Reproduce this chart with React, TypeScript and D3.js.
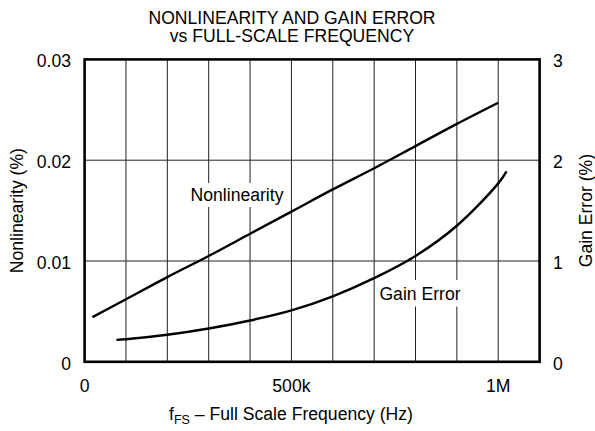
import React from "react";
import * as d3 from "d3";

const titleLines = ["NONLINEARITY AND GAIN ERROR", "vs FULL-SCALE FREQUENCY"];
const xTicks = [0, 500000, 1000000];
const xTickLabels = ["0", "500k", "1M"];
const xGrid = [100000, 200000, 300000, 400000, 500000, 600000, 700000, 800000, 900000, 1000000];
const yLeftTicks = [0, 0.01, 0.02, 0.03];
const yLeftLabels = ["0", "0.01", "0.02", "0.03"];
const yRightTicks = [0, 1, 2, 3];
const yRightLabels = ["0", "1", "2", "3"];

const nlFreq = [19000, 100000, 200000, 300000, 400000, 500000, 600000, 700000, 800000, 900000, 1000000];
const nlValues = [0.00443, 0.0062, 0.0084, 0.0105, 0.0127, 0.0149, 0.0171, 0.0192, 0.0214, 0.0236, 0.0257];

const geFreq = [77000, 100000, 200000, 300000, 400000, 500000, 600000, 700000, 800000, 900000, 1000000, 1020000];
const geValues = [0.218, 0.224, 0.268, 0.33, 0.41, 0.51, 0.65, 0.83, 1.05, 1.35, 1.77, 1.89];

const W = 595;
const H = 431;
const L = 84.6;
const R = 539.6;
const T = 59.4;
const B = 361.8;
const FONT = "'Liberation Sans', Arial, Helvetica, sans-serif";
const FS = 17.6;

export default function App() {
  const x = d3.scaleLinear().domain([0, 1100000]).range([L, R]);
  const yL = d3.scaleLinear().domain([0, 0.03]).range([B, T]);
  const yR = d3.scaleLinear().domain([0, 3]).range([B, T]);

  const nlLine = d3
    .line<number>()
    .x((_, i) => x(nlFreq[i]))
    .y((d) => yL(d))
    .curve(d3.curveCatmullRom);
  const geLine = d3
    .line<number>()
    .x((_, i) => x(geFreq[i]))
    .y((d) => yR(d))
    .curve(d3.curveCatmullRom);

  return (
    <svg
      width={W}
      height={H}
      style={{ position: "absolute", left: 0, top: 0, background: "#fff" }}
      fontFamily={FONT}
    >
      <rect x={0} y={0} width={W} height={H} fill="#fff" />
      {titleLines.map((t, i) => (
        <text key={t} x={292} y={24 + i * 18} textAnchor="middle" fontSize={FS} fill="#000">
          {t}
        </text>
      ))}
      {xGrid.map((v) => (
        <line key={"gx" + v} x1={x(v)} x2={x(v)} y1={T} y2={B} stroke="#222" strokeWidth={1} />
      ))}
      {[0.01, 0.02].map((v) => (
        <line key={"gy" + v} x1={L} x2={R} y1={yL(v)} y2={yL(v)} stroke="#222" strokeWidth={1} />
      ))}
      <rect x={189} y={183} width={96} height={24} fill="#fff" />
      <rect x={376} y={280} width={88} height={26.5} fill="#fff" />
      <path d={nlLine(nlValues) || ""} fill="none" stroke="#000" strokeWidth={2.4} />
      <path d={geLine(geValues) || ""} fill="none" stroke="#000" strokeWidth={2.4} />
      <text x={237} y={201} textAnchor="middle" fontSize={FS} fill="#000">
        Nonlinearity
      </text>
      <text x={420} y={300} textAnchor="middle" fontSize={FS} fill="#000">
        Gain Error
      </text>
      <rect x={L} y={T} width={R - L} height={B - T} fill="none" stroke="#000" strokeWidth={2.6} />
      {yLeftTicks.map((v, i) => (
        <text key={"yl" + v} x={71} y={yL(v) + 8} textAnchor="end" fontSize={FS} fill="#000">
          {yLeftLabels[i]}
        </text>
      ))}
      {yRightTicks.map((v, i) => (
        <text key={"yr" + v} x={553} y={yR(v) + 8} textAnchor="start" fontSize={FS} fill="#000">
          {yRightLabels[i]}
        </text>
      ))}
      {xTicks.map((v, i) => (
        <text key={"xt" + v} x={x(v)} y={391.5} textAnchor="middle" fontSize={FS} fill="#000">
          {xTickLabels[i]}
        </text>
      ))}
      <text x={291} y={420} textAnchor="middle" fontSize={FS} fill="#000">
        f<tspan fontSize={12.5} dy={4}>FS</tspan>
        <tspan dy={-4}> – Full Scale Frequency (Hz)</tspan>
      </text>
      <text transform={`translate(23, ${(T + B) / 2}) rotate(-90)`} textAnchor="middle" fontSize={FS} fill="#000">
        Nonlinearity (%)
      </text>
      <text transform={`translate(591.5, ${(T + B) / 2}) rotate(-90)`} textAnchor="middle" fontSize={FS} fill="#000">
        Gain Error (%)
      </text>
    </svg>
  );
}
